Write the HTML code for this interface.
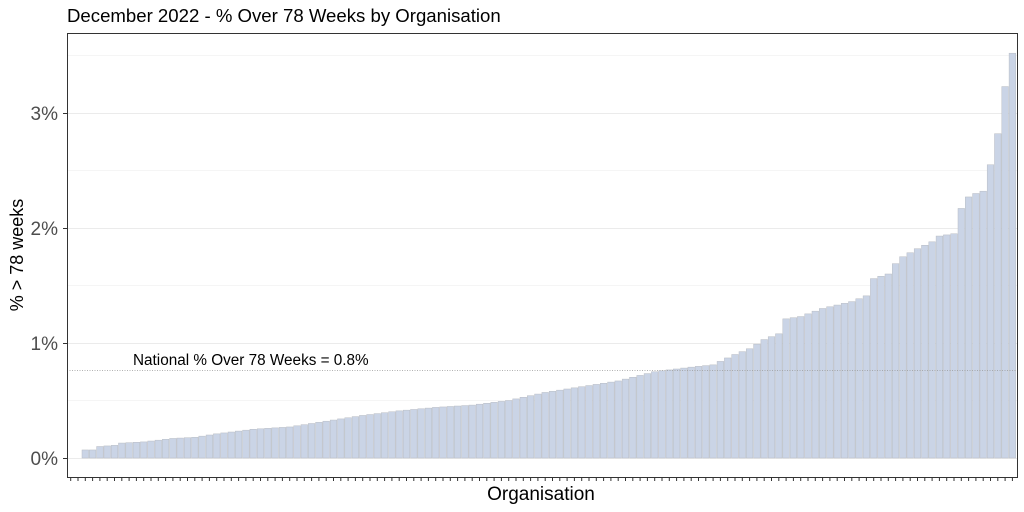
<!DOCTYPE html>
<html><head><meta charset="utf-8"><style>
body{margin:0;background:#fff;}
svg{display:block;font-family:"Liberation Sans",Arial,sans-serif;}
</style></head><body>
<svg id="s" width="1024" height="512" xmlns="http://www.w3.org/2000/svg">
<rect width="1024" height="512" fill="#fff"/>
<text x="67" y="22" font-size="18.6" fill="#000">December 2022 - % Over 78 Weeks by Organisation</text>
<g stroke="#ebebeb" stroke-width="1">
<line x1="67" x2="1017" y1="55.5" y2="55.5" stroke-width="0.6"/>
<line x1="67" x2="1017" y1="170.5" y2="170.5" stroke-width="0.6"/>
<line x1="67" x2="1017" y1="285.5" y2="285.5" stroke-width="0.6"/>
<line x1="67" x2="1017" y1="400.5" y2="400.5" stroke-width="0.6"/>
<line x1="67" x2="1017" y1="113.5" y2="113.5"/>
<line x1="67" x2="1017" y1="228.5" y2="228.5"/>
<line x1="67" x2="1017" y1="343.5" y2="343.5"/>
<line x1="67" x2="1017" y1="458.5" y2="458.5"/>
</g>
<g id="bars"></g>
<line x1="67" x2="1017" y1="370.5" y2="370.5" stroke="#999" stroke-width="0.8" stroke-dasharray="1,1.5"/>
<text x="133" y="365" font-size="15.3" fill="#000">National % Over 78 Weeks = 0.8%</text>
<rect x="67.5" y="33.5" width="950" height="444" fill="none" stroke="#333" stroke-width="1"/>
<g font-size="19" fill="#4d4d4d" text-anchor="end">
<text x="58" y="120">3%</text>
<text x="58" y="235">2%</text>
<text x="58" y="350">1%</text>
<text x="58" y="465">0%</text>
</g>
<g stroke="#333" stroke-width="1">
<line x1="63" x2="67" y1="113.5" y2="113.5"/>
<line x1="63" x2="67" y1="228.5" y2="228.5"/>
<line x1="63" x2="67" y1="343.5" y2="343.5"/>
<line x1="63" x2="67" y1="458.5" y2="458.5"/>
</g>
<g id="ticks" stroke="#333" stroke-width="1"></g>
<text x="541" y="500" font-size="19" text-anchor="middle" fill="#000">Organisation</text>
<text transform="translate(23,255) rotate(-90)" font-size="18" text-anchor="middle" fill="#000">% &gt; 78 weeks</text>
</svg>
<script>
var anchors=[[0,0],[1,0],[2,0.07],[3,0.07],[4,0.1],[6,0.11],[7,0.13],[10,0.14],[14,0.17],[17,0.18],[20,0.21],[25,0.25],[30,0.27],[35,0.32],[40,0.37],[45,0.41],[50,0.44],[55,0.46],[60,0.5],[65,0.57],[70,0.62],[75,0.67],[80,0.75],[85,0.79],[88,0.81],[91,0.9],[93,0.95],[95,1.03],[97,1.08],[98,1.21],[100,1.23],[103,1.3],[107,1.36],[109,1.41],[110,1.56],[112,1.6],[113,1.69],[114,1.75],[116,1.82],[118,1.88],[119,1.93],[121,1.95],[122,2.17],[123,2.27],[124,2.3],[125,2.32],[126,2.55],[127,2.82],[128,3.23],[129,3.52]];
function v(i){for(var k=0;k<anchors.length-1;k++){var a=anchors[k],b=anchors[k+1];if(i>=a[0]&&i<=b[0]){return a[1]+(b[1]-a[1])*(i-a[0])/(b[0]-a[0]);}}return 0;}
var g=document.getElementById('bars'),t=document.getElementById('ticks'),h="",tk="";
for(var i=0;i<130;i++){var cx=70.7+7.3*i,val=v(i),hh=val*115;
if(hh>0)h+='<rect x="'+(cx-3.3)+'" y="'+(458-hh)+'" width="6.6" height="'+hh+'" fill="#cad4e6" stroke="#b8bcc4" stroke-width="0.5"/>';
tk+='<line x1="'+cx+'" x2="'+cx+'" y1="477" y2="481"/>';}
g.innerHTML=h;t.innerHTML=tk;
</script>
</body></html>
